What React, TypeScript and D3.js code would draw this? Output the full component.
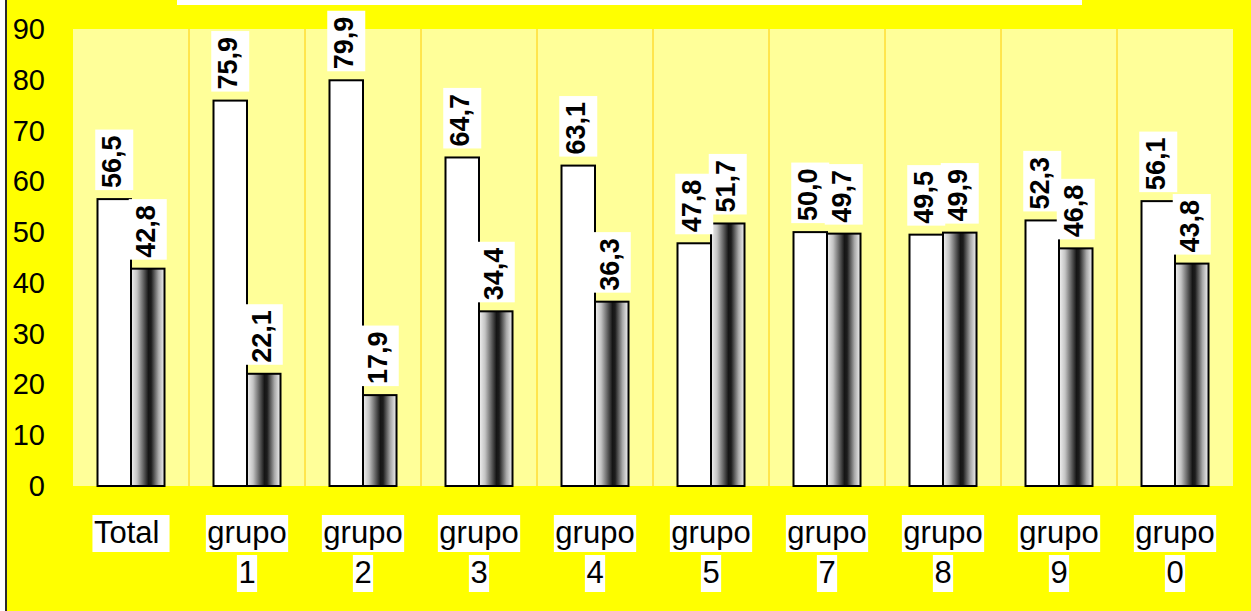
import React from "react";
import * as d3 from "d3";

const categories = ["Total", "grupo 1", "grupo 2", "grupo 3", "grupo 4", "grupo 5", "grupo 7", "grupo 8", "grupo 9", "grupo 0"];
const seriesA = [56.5, 75.9, 79.9, 64.7, 63.1, 47.8, 50.0, 49.5, 52.3, 56.1];
const seriesB = [42.8, 22.1, 17.9, 34.4, 36.3, 51.7, 49.7, 49.9, 46.8, 43.8];
const yTicks = [0, 10, 20, 30, 40, 50, 60, 70, 80, 90];

const W = 1251;
const H = 611;
const FONT = "'Liberation Sans', Arial, sans-serif";

const fmt = d3.formatLocale({ decimal: ",", thousands: ".", grouping: [3], currency: ["", "€"] }).format(".1f");

let ctx: CanvasRenderingContext2D | null = null;
function textWidth(s: string, font: string): number {
  if (!ctx) ctx = document.createElement("canvas").getContext("2d");
  if (!ctx) return s.length * 15;
  ctx.font = font;
  return ctx.measureText(s).width;
}

export default function App() {
  const x = d3.scaleBand<string>().domain(categories).range([73, 1233]).paddingInner(0).paddingOuter(0);
  const y = d3.scaleLinear().domain([0, 90]).range([486, 29]);
  const barW = 33.5;
  const valFont = `bold 27px ${FONT}`;
  const catSize = 31;
  const catFont = `${catSize}px ${FONT}`;

  const bars: { cx: number; x0: number; v: number; s: number }[] = [];
  categories.forEach((c, i) => {
    const mid = (x(c) as number) + x.bandwidth() / 2;
    bars.push({ cx: mid - barW / 2, x0: mid - barW, v: seriesA[i], s: 0 });
    bars.push({ cx: mid + barW / 2, x0: mid, v: seriesB[i], s: 1 });
  });
  const labelOrder = [...bars.filter((b) => b.s === 0), ...bars.filter((b) => b.s === 1)];

  return (
    <svg width={W} height={H} style={{ position: "absolute", left: 0, top: 0, display: "block" }} fontFamily={FONT}>
      <defs>
        <linearGradient id="tube" x1="0" x2="1" y1="0" y2="0">
          <stop offset="0" stopColor="#f2f2f2" />
          <stop offset="0.18" stopColor="#c4c4c4" />
          <stop offset="0.52" stopColor="#151515" />
          <stop offset="0.6" stopColor="#1c1c1c" />
          <stop offset="0.82" stopColor="#a8a8a8" />
          <stop offset="1" stopColor="#f4f4f4" />
        </linearGradient>
      </defs>
      <rect x={0} y={0} width={W} height={H} fill="#ffffff" />
      <rect x={7} y={0} width={W - 7} height={H} fill="#ffff00" />
      <rect x={5} y={0} width={2} height={H} fill="#2a2a2a" />
      {/* title box, cut at the top edge */}
      <rect x={177} y={-20} width={905} height={25} fill="#ffffff" />

      {/* plot area */}
      <rect x={73} y={y(90)} width={1160} height={y(0) - y(90)} fill="#ffff99" />
      {categories.slice(1).map((c) => (
        <line key={c} x1={x(c)} x2={x(c)} y1={y(90)} y2={y(0)} stroke="#ffcc00" strokeWidth={1} />
      ))}

      {/* y tick labels */}
      {yTicks.map((t) => (
        <text key={t} x={45} y={y(t)} textAnchor="end" dominantBaseline="central" fontSize={29} fill="#000">
          {t}
        </text>
      ))}

      {/* bars */}
      {bars.map((b, i) => (
        <rect
          key={i}
          x={b.x0}
          y={y(b.v)}
          width={barW}
          height={y(0) - y(b.v)}
          fill={b.s === 0 ? "#ffffff" : "url(#tube)"}
          stroke="#000"
          strokeWidth={2}
        />
      ))}

      {/* value labels */}
      {labelOrder.map((b, i) => {
        const s = fmt(b.v);
        const len = textWidth(s, valFont);
        const bottom = y(b.v) - 9;
        const boxH = len + 8;
        return (
          <g key={i}>
            <rect x={b.cx - 19} y={bottom - boxH} width={38} height={boxH} fill="#ffffff" />
            <text
              transform={`translate(${b.cx + 7},${bottom - 2}) rotate(-90)`}
              fontSize={27}
              fontWeight="bold"
              fill="#000"
            >
              {s}
            </text>
          </g>
        );
      })}

      {/* category labels */}
      {categories.map((c) => {
        const mid = (x(c) as number) + x.bandwidth() / 2;
        const lines = c.includes(" ") ? c.split(" ") : [c + " "];
        return (
          <g key={c}>
            {lines.map((ln, j) => {
              const w = textWidth(ln, catFont) + 3;
              const base = 543 + j * 40;
              return (
                <g key={j}>
                  <rect x={mid - w / 2} y={base - 28} width={w} height={37} fill="#ffffff" />
                  <text x={mid - w / 2 + 1.5} y={base} fontSize={catSize} fill="#000" style={{ whiteSpace: "pre" }}>
                    {ln}
                  </text>
                </g>
              );
            })}
          </g>
        );
      })}
    </svg>
  );
}
